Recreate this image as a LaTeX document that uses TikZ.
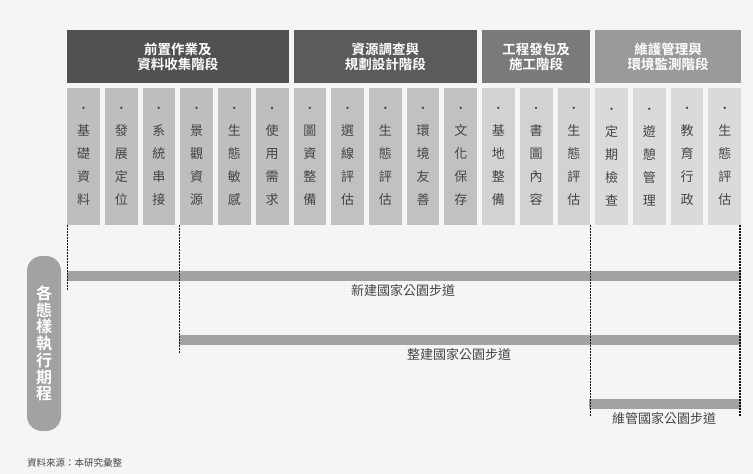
\documentclass[tikz,border=0pt]{standalone}
\usepackage{fontspec}
\setmainfont{Noto Sans CJK TC}[BoldFont={Noto Sans CJK TC Bold}]
\definecolor{bg}{HTML}{F5F5F5}
\definecolor{hdA}{HTML}{515151}
\definecolor{hdB}{HTML}{5B5B5B}
\definecolor{hdC}{HTML}{7A7A7A}
\definecolor{hdD}{HTML}{9A9A9A}
\definecolor{colA}{HTML}{BEBEBE}
\definecolor{colB}{HTML}{C1C1C1}
\definecolor{colC}{HTML}{D2D2D2}
\definecolor{colD}{HTML}{DADADA}
\definecolor{bar}{HTML}{A2A2A2}
\definecolor{txt}{HTML}{444444}
\definecolor{dots}{HTML}{111111}
\tikzset{
  header/.style={fill=#1, draw=none, anchor=north west, minimum height=53pt, inner sep=0pt,
    text=white, align=center, font=\fontsize{13.5}{15.5}\selectfont\bfseries},
  colbox/.style={fill=#1, draw=none, anchor=north west, minimum width=32.7pt, minimum height=137pt,
    inner sep=0pt, text=txt, align=center, font=\fontsize{13}{23}\selectfont},
  barbox/.style={fill=bar, draw=none, anchor=north west, minimum height=9.5pt, inner sep=0pt},
  barlabel/.style={text=txt, font=\fontsize{13}{15}\selectfont, inner sep=0pt},
  dotline/.style={draw=dots, line width=1.3pt, dash pattern=on 1.2pt off 1.8pt}
}
\newcommand{\bul}{{\fontsize{11}{23}\selectfont •}}
\begin{document}
\begin{tikzpicture}[x=1pt,y=-1pt]
\fill[bg] (0,0) rectangle (753,474);
\useasboundingbox (0,0) rectangle (753,474);
\def\pitch{37.72}
% headers
\node[header=hdA, minimum width=221.3pt] (h1) at (67,30) {前置作業及\\資料收集階段};
\node[header=hdB, minimum width=183.6pt] (h2) at ({67+6*\pitch},30) {資源調查與\\規劃設計階段};
\node[header=hdC, minimum width=108.1pt] (h3) at ({67+11*\pitch},30) {工程發包及\\施工階段};
\node[header=hdD, minimum width=145.9pt] (h4) at ({67+14*\pitch},30) {維護管理與\\環境監測階段};
% columns
\foreach \i/\t/\c in {1/基\\礎\\資\\料/colA, 2/發\\展\\定\\位/colA, 3/系\\統\\串\\接/colA,
  4/景\\觀\\資\\源/colA, 5/生\\態\\敏\\感/colA, 6/使\\用\\需\\求/colA,
  7/圖\\資\\整\\備/colB, 8/選\\線\\評\\估/colB, 9/生\\態\\評\\估/colB,
  10/環\\境\\友\\善/colB, 11/文\\化\\保\\存/colB,
  12/基\\地\\整\\備/colC, 13/書\\圖\\內\\容/colC, 14/生\\態\\評\\估/colC,
  15/定\\期\\檢\\查/colD, 16/遊\\憩\\管\\理/colD, 17/教\\育\\行\\政/colD, 18/生\\態\\評\\估/colD}
  {\node[colbox=\c] (c\i) at ({67+(\i-1)*\pitch},88) {\bul\\\t};}
% bars
\node[barbox, minimum width=674pt] (b1) at (67,271) {};
\node[barbox, minimum width=562pt] (b2) at (179,335) {};
\node[barbox, minimum width=152pt] (b3) at (589,399) {};
\node[barlabel] (l1) at (403,291) {新建國家公園步道};
\node[barlabel] (l2) at (459,355) {整建國家公園步道};
\node[barlabel] (l3) at (664,419) {維管國家公園步道};
% dotted guide lines
\coordinate (d1) at (67.5,290);
\coordinate (d2) at (179.5,354);
\coordinate (d3) at (590.7,417);
\coordinate (d4) at (740,417);
\draw[dotline] (c1.south west -| d1) -- (d1);
\draw[dotline] (c3.south east -| d2) -- (d2);
\draw[dotline] (c14.south east -| d3) -- (d3);
\draw[dotline] (c18.south east -| d4) -- (d4);
% left pill
\node[fill=bar, rounded corners=15pt, minimum width=34pt, minimum height=175pt, inner sep=0pt,
  text=white, align=center, font=\fontsize{16}{16.7}\selectfont\bfseries] (pill) at (44,343.5)
  {各\\態\\樣\\執\\行\\期\\程};
% source note
\node[anchor=west, text=txt, inner sep=0pt, font=\fontsize{9.5}{11}\selectfont] (src) at (27,463) {資料來源：本研究彙整};
\end{tikzpicture}
\end{document}
